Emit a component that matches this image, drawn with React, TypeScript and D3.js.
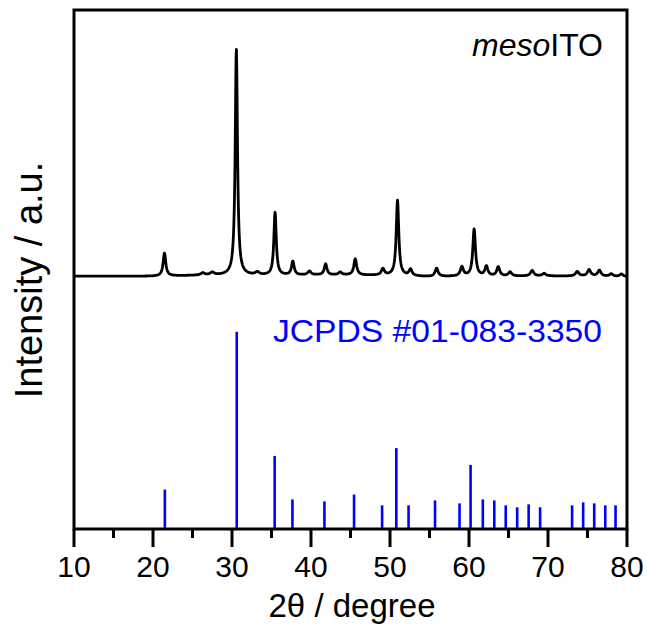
import React from "react";
import * as d3 from "d3";

// ---- Data ----
// Measured mesoITO XRD pattern, described by its reflections (2θ, counts above background, FWHM)
const xrdPeakPos = [21.45, 26.3, 27.5, 30.55, 33.2, 35.45, 37.7, 39.8, 41.85, 43.7, 45.6, 49.1, 50.95, 52.6, 55.9, 59.1, 60.65, 62.2, 63.7, 65.2, 68.0, 69.5, 73.7, 75.2, 76.5, 78.0, 79.3];
const xrdPeakCounts = [100, 10, 12, 990, 12, 275, 60, 16, 48, 12, 70, 28, 330, 28, 36, 40, 205, 42, 40, 18, 24, 11, 20, 28, 26, 11, 11];
const xrdPeakFwhm = [0.4, 0.6, 0.6, 0.34, 0.6, 0.36, 0.4, 0.5, 0.4, 0.5, 0.42, 0.45, 0.38, 0.45, 0.45, 0.45, 0.4, 0.45, 0.45, 0.5, 0.5, 0.5, 0.5, 0.5, 0.5, 0.5, 0.5];
// background counts read every 5° from 10° to 80°
const bgAngles = [10, 15, 20, 25, 30, 35, 40, 45, 50, 55, 60, 65, 70, 75, 80];
const bgCounts = [0, 0, 0, 3, 4, 3, 5, 5, 3, -2, 0, 0, 1, 0, -2];

// JCPDS #01-083-3350 reference lines (2θ, relative intensity %)
const refPos = [21.5, 30.6, 35.4, 37.65, 41.7, 45.45, 49.0, 50.8, 52.35, 55.7, 58.8, 60.2, 61.75, 63.2, 64.65, 66.1, 67.55, 69.0, 73.05, 74.45, 75.85, 77.25, 78.55];
const refIntensity = [20, 100, 37, 15, 14, 17.5, 12, 41, 12, 14.5, 13, 32.5, 15, 14.5, 12, 11, 12.5, 11, 12, 13.5, 13, 12, 12];

const xTicksMajor = [10, 20, 30, 40, 50, 60, 70, 80];
const xTicksMinor = [15, 25, 35, 45, 55, 65, 75];

const W = 647;
const H = 630;
const M = { left: 74, right: 627, top: 10, bottom: 529 };
const FONT = "'Liberation Sans', Arial, Helvetica, sans-serif";

export default function App() {
  const x = d3.scaleLinear().domain([10, 80]).range([M.left, M.right]);
  const y = d3.scaleLinear().domain([0, 1000]).range([M.bottom, M.top]);

  // stacking of the two traces in the a.u. axis
  const REF_SCALE = 3.8;
  const XRD_OFFSET = 487;
  const XRD_SCALE = 0.441;

  const bg = d3.scaleLinear().domain(bgAngles).range(bgCounts);
  const angles = d3.range(10, 80.0001, 0.04);
  const pattern: [number, number][] = angles.map((a) => {
    let c = bg(a);
    for (let i = 0; i < xrdPeakPos.length; i++) {
      const hw = xrdPeakFwhm[i] / 2;
      const d = (a - xrdPeakPos[i]) / hw;
      c += xrdPeakCounts[i] / (1 + d * d);
    }
    return [a, c];
  });

  const line = d3
    .line<[number, number]>()
    .x((d) => x(d[0]))
    .y((d) => y(XRD_OFFSET + d[1] * XRD_SCALE));

  return (
    <svg width={W} height={H} style={{ position: "absolute", left: 0, top: 0, background: "#fff" }}>
      <rect x={0} y={0} width={W} height={H} fill="#fff" />
      {/* reference lines */}
      <g>
        {refPos.map((p, i) => (
          <line
            key={i}
            x1={x(p)}
            x2={x(p)}
            y1={y(0)}
            y2={y(refIntensity[i] * REF_SCALE)}
            stroke="#0000ff"
            strokeWidth={2.6}
          />
        ))}
      </g>
      {/* measured pattern */}
      <path d={line(pattern) || ""} fill="none" stroke="#000" strokeWidth={2.8} strokeLinejoin="round" />

      {/* frame */}
      <rect
        x={M.left}
        y={M.top}
        width={M.right - M.left}
        height={M.bottom - M.top}
        fill="none"
        stroke="#000"
        strokeWidth={3}
      />
      {/* ticks */}
      <g stroke="#000" strokeWidth={3}>
        {xTicksMajor.map((t) => (
          <line key={"M" + t} x1={x(t)} x2={x(t)} y1={M.bottom} y2={M.bottom + 18} />
        ))}
        {xTicksMinor.map((t) => (
          <line key={"m" + t} x1={x(t)} x2={x(t)} y1={M.bottom} y2={M.bottom + 9} />
        ))}
      </g>
      <g fontFamily={FONT} fontSize={30} textAnchor="middle" fill="#000">
        {xTicksMajor.map((t) => (
          <text key={t} x={x(t)} y={577}>
            {t}
          </text>
        ))}
      </g>
      <text x={352} y={617} fontFamily={FONT} fontSize={33} textAnchor="middle">
        2θ / degree
      </text>
      <text
        transform={`translate(42, 280) rotate(-90)`}
        fontFamily={FONT}
        fontSize={38}
        textAnchor="middle"
      >
        Intensity / a.u.
      </text>
      <text x={603} y={56} fontFamily={FONT} fontSize={32} textAnchor="end">
        <tspan fontStyle="italic">meso</tspan>ITO
      </text>
      <text x={602} y={342} fontFamily={FONT} fontSize={32} textAnchor="end" fill="#0000ff" textLength={329} lengthAdjust="spacingAndGlyphs">
        JCPDS #01-083-3350
      </text>
    </svg>
  );
}
